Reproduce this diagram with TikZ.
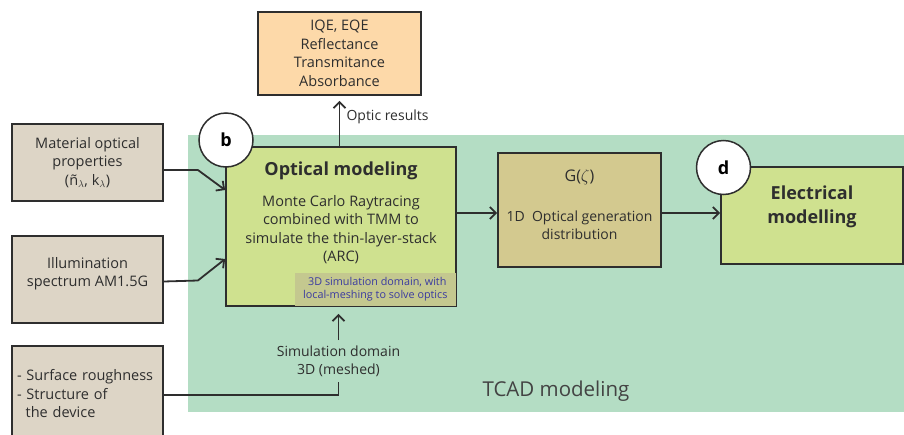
\documentclass[tikz,border=0pt]{standalone}
\usepackage{fontspec}
\setmainfont{Open Sans}
\usepackage{tikz}
\usetikzlibrary{arrows.meta, positioning, calc}

\definecolor{tcadgreen}{HTML}{B4DDC4}
\definecolor{inputgray}{HTML}{DDD5C6}
\definecolor{modelgreen}{HTML}{CFE18F}
\definecolor{genbrown}{HTML}{D3C98F}
\definecolor{resultorange}{HTML}{FDD9A9}
\definecolor{insetgray}{HTML}{C4C88F}
\definecolor{insetblue}{HTML}{3A3AA0}
\definecolor{linegray}{HTML}{2E2E2E}

\begin{document}
\begin{tikzpicture}[
    x=1pt, y=-1pt,
    box/.style={rectangle, draw=linegray, line width=1.8pt, align=center, text=linegray, font=\fontsize{14.5}{18.5}\selectfont},
    inbox/.style={box, fill=inputgray, minimum width=151pt},
    model/.style={box, fill=modelgreen},
    badge/.style={circle, draw=linegray, line width=1.5pt, fill=white, minimum size=54pt, inner sep=0pt, font=\fontsize{18}{18}\selectfont\bfseries},
    arrow/.style={-{Straight Barb[length=6pt, width=12pt]}, line width=1.8pt, draw=linegray},
    lbl/.style={text=linegray, align=center, font=\fontsize{14}{18}\selectfont}
]
    \useasboundingbox (0,0) rectangle (904,434);

    % TCAD region
    \fill[tcadgreen] (188,135) rectangle (904,412);
    \node[text=linegray!90, font=\fontsize{20.5}{26}\selectfont] (tcad) at (556,391) {TCAD modeling};

    % inputs on the left
    \node[inbox, minimum height=77pt] (material) at (87.5,162.5) {Material optical\\properties\\(ñ$_\lambda$, k$_\lambda$)};
    \node[inbox, minimum height=87pt] (illum) at (87.5,279.5) {};
    \node[lbl, font=\fontsize{14.5}{18.5}\selectfont] (illumtxt) at (87.5,273.5) {Illumination\\spectrum AM1.5G};
    \node[inbox, minimum height=96pt, anchor=north, align=left, inner xsep=5pt, text width=141pt] (surface) at (87.5,345)
        {- Surface roughness\\- Structure of\\\hspace*{0.6em}the device};

    % optical model
    \node[model, minimum width=230pt, minimum height=159pt] (optical) at (341,226.5) {};
    \node[text=linegray, font=\fontsize{18}{22}\selectfont\bfseries] (optitle) at (341,171) {Optical modeling};
    \node[lbl, font=\fontsize{14.5}{18.5}\selectfont] (optbody) at (341,229.5)
        {Monte Carlo Raytracing\\combined with TMM to\\simulate the thin-layer-stack\\(ARC)};
    \node[fill=insetgray, anchor=south east, minimum width=161pt, minimum height=33pt, inner sep=0pt,
          text=insetblue, align=center, font=\fontsize{10.8}{12.5}\selectfont] (inset)
        at ([xshift=-0.9pt, yshift=0.9pt]optical.south east)
        {\hspace*{4pt}3D simulation domain, with\\local-meshing to solve optics};
    \node[badge] (b) at (226,140) {b};

    % optic results
    \node[box, fill=resultorange, minimum width=163pt, minimum height=83pt] (results) at (339.5,53.5)
        {IQE, EQE\\Reflectance\\Transmitance\\Absorbance};

    % generation profile
    \node[box, fill=genbrown, minimum width=163pt, minimum height=114pt] (gen) at (579.5,210) {};
    \node[text=linegray, font=\fontsize{16}{18}\selectfont] (gtitle) at (579.5,177) {G($\zeta$)};
    \node[lbl] (gbody) at (579.5,225) {1D~ Optical generation\\distribution};

    % electrical model
    \node[model, minimum width=182pt, minimum height=97pt] (elec) at (812,215.5) {};
    \node[text=linegray, align=center, font=\fontsize{18}{24}\selectfont\bfseries] (etitle) at (812,207) {Electrical\\modelling};
    \node[badge] (d) at (723.5,167.5) {d};

    % connections
    \draw[arrow] ([yshift=-7.5pt]material.east) -- ++(34,0) -- ([yshift=36.5pt]optical.west);
    \draw[arrow] ([yshift=-2pt]illum.east) -- ++(34,-1) -- ([yshift=-32.5pt]optical.west);
    \node[lbl] (simdom) at (338.5,361) {Simulation domain\\3D (meshed)};
    \draw[line width=1.8pt, draw=linegray] ([yshift=-1pt]surface.east) -| ([yshift=-2pt]simdom.south);
    \draw[arrow, shorten >=7pt] ([yshift=2pt]simdom.north) -- (simdom.north |- optical.south);
    \draw[arrow, shorten >=5pt] (optical.north -| results.south) -- (results.south);
    \node[lbl, anchor=west] (optres) at (343,117) {Optic results};
    \draw[arrow] (optical.east |- 0,213) -- (gen.west |- 0,213);
    \draw[arrow] (gen.east |- 0,213) -- (elec.west |- 0,213);
\end{tikzpicture}
\end{document}
